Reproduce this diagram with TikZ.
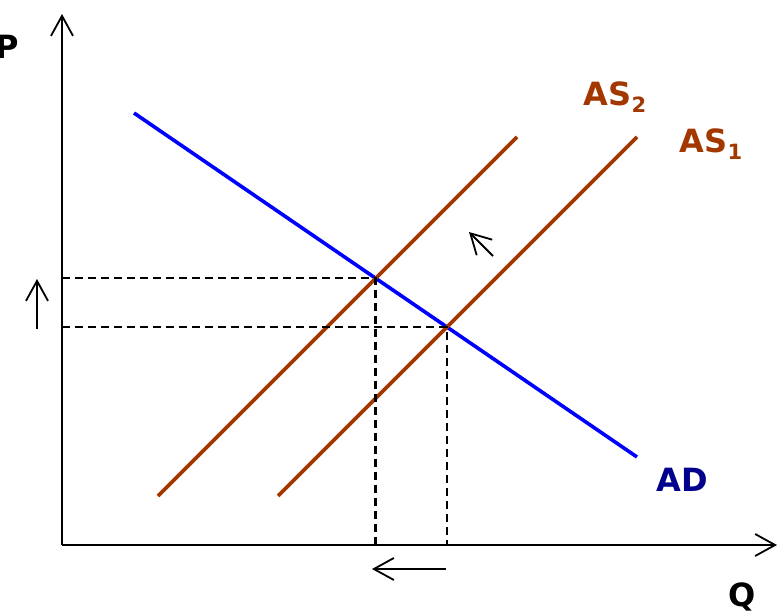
\documentclass[tikz,border=0pt]{standalone}
\usepackage{fontspec}
\setmainfont{DejaVu Sans}
\usetikzlibrary{intersections,arrows.meta}
\definecolor{asbrown}{RGB}{163,55,0}
\definecolor{adblue}{RGB}{0,0,255}
\definecolor{adnavy}{RGB}{0,0,140}
\begin{document}
\begin{tikzpicture}[x=1pt,y=-1pt,
  axis/.style={line width=2pt,-{Straight Barb[length=20pt,width=22pt,line width=1.8pt]}},
  curveAS/.style={line width=3.6pt,asbrown},
  curveAD/.style={line width=3.6pt,adblue},
  guide/.style={line width=2.4pt,dash pattern=on 8pt off 5pt},
  hint/.style={line width=2pt,-{Straight Barb[length=20pt,width=22pt,line width=1.8pt]}},
  lbl/.style={font=\fontsize{32}{36}\selectfont\bfseries,inner sep=0pt}]
\useasboundingbox (0,0) rectangle (777,615);
% axes
\coordinate (O) at (62,545);
\coordinate (Ytop) at (62,14);
\coordinate (Xend) at (777,545);
\draw[axis] (O) -- (Ytop);
\draw[axis] (O) -- (Xend);
\node[lbl,anchor=east] (P) at (19,47) {P};
\node[lbl] (Q) at (742,597) {Q};
% curves
\coordinate (AD1) at (134,113);
\coordinate (AD2) at (637,457);
\coordinate (ASa1) at (278,496);
\coordinate (ASa2) at (637,137);
\coordinate (ASb1) at (158,496);
\coordinate (ASb2) at (517,137);
\draw[curveAD,name path=ad] (AD1) -- (AD2);
\draw[curveAS,name path=as1] (ASa1) -- (ASa2);
\draw[curveAS,name path=as2] (ASb1) -- (ASb2);
\path[name intersections={of=ad and as2,by=E2}];
\path[name intersections={of=ad and as1,by=E1}];
% guides
\draw[guide] (O |- E2) -- (E2) -- (E2 |- O);
\draw[guide] (O |- E1) -- (E1) -- (E1 |- O);
% labels
\node[lbl,text=asbrown] (LAS2) at (615,97) {AS\raisebox{-0.22em}{\fontsize{21}{24}\selectfont 2}};
\node[lbl,text=asbrown] (LAS1) at (711,144) {AS\raisebox{-0.22em}{\fontsize{21}{24}\selectfont 1}};
\node[lbl,text=adnavy] (LAD) at (682,480) {AD};
% hint arrows
\coordinate (u1) at (37,329); \coordinate (u2) at (37,279);
\coordinate (l1) at (446,569); \coordinate (l2) at (372,569);
\coordinate (d1) at (493,256); \coordinate (d2) at (469,232);
\draw[hint] (u1) -- (u2);
\draw[hint] (l1) -- (l2);
\draw[hint] (d1) -- (d2);
\end{tikzpicture}
\end{document}
